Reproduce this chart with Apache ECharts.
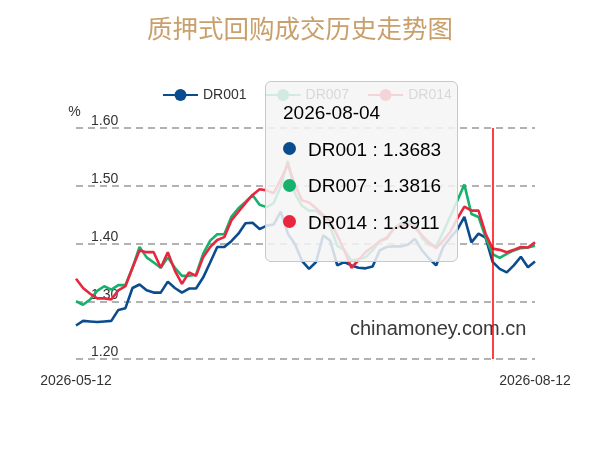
<!DOCTYPE html>
<html>
<head>
<meta charset="utf-8">
<script src="https://cdn.jsdelivr.net/npm/echarts@6/dist/echarts.min.js"></script>
<style>
html,body{margin:0;padding:0;background:#fff;}
#chart{width:600px;height:453px;}
</style>
</head>
<body>
<div id="chart"></div>
<script>
var dates = [
  '2026-05-12','2026-05-13','2026-05-14','2026-05-15',
  '2026-05-18','2026-05-19','2026-05-20','2026-05-21','2026-05-22',
  '2026-05-25','2026-05-26','2026-05-27','2026-05-28','2026-05-29',
  '2026-06-01','2026-06-02','2026-06-03','2026-06-04','2026-06-05',
  '2026-06-08','2026-06-09','2026-06-10','2026-06-11','2026-06-12',
  '2026-06-15','2026-06-16','2026-06-17','2026-06-18',
  '2026-06-22','2026-06-23','2026-06-24','2026-06-25','2026-06-26',
  '2026-06-29','2026-06-30','2026-07-01','2026-07-02','2026-07-03',
  '2026-07-06','2026-07-07','2026-07-08','2026-07-09','2026-07-10',
  '2026-07-13','2026-07-14','2026-07-15','2026-07-16','2026-07-17',
  '2026-07-20','2026-07-21','2026-07-22','2026-07-23','2026-07-24',
  '2026-07-27','2026-07-28','2026-07-29','2026-07-30','2026-07-31',
  '2026-08-03','2026-08-04','2026-08-05','2026-08-06','2026-08-07',
  '2026-08-10','2026-08-11','2026-08-12'
];
var dr001 = [
  1.258,1.266,1.265,1.264,1.265,1.266,1.285,1.288,1.323,1.329,
  1.319,1.315,1.315,1.334,1.323,1.315,1.322,1.322,1.341,1.367,
  1.394,1.394,1.404,1.417,1.435,1.436,1.425,1.431,1.433,1.455,
  1.417,1.399,1.370,1.356,1.368,1.414,1.405,1.362,1.368,1.362,
  1.358,1.357,1.360,1.388,1.394,1.395,1.395,1.398,1.408,1.388,
  1.374,1.362,1.394,1.410,1.424,1.446,1.402,1.417,1.410,1.3683,
  1.356,1.350,1.362,1.377,1.359,1.369
];
var dr007 = [
  1.300,1.294,1.303,1.318,1.326,1.320,1.328,1.328,1.358,1.394,
  1.376,1.367,1.358,1.376,1.358,1.344,1.344,1.346,1.382,1.405,
  1.416,1.416,1.446,1.461,1.472,1.484,1.467,1.463,1.470,1.499,
  1.543,1.487,1.465,1.457,1.457,1.446,1.429,1.396,1.389,1.370,
  1.373,1.376,1.388,1.404,1.408,1.426,1.435,1.440,1.435,1.410,
  1.398,1.395,1.420,1.447,1.474,1.502,1.451,1.446,1.411,1.3816,
  1.375,1.382,1.388,1.392,1.393,1.396
];
var dr014 = [
  1.339,1.323,1.313,1.305,1.305,1.303,1.319,1.326,1.358,1.388,
  1.385,1.385,1.358,1.385,1.353,1.330,1.350,1.344,1.376,1.394,
  1.406,1.411,1.440,1.455,1.470,1.484,1.494,1.492,1.487,1.511,
  1.537,1.502,1.475,1.471,1.461,1.449,1.439,1.414,1.388,1.358,
  1.371,1.385,1.394,1.404,1.410,1.426,1.430,1.435,1.428,1.414,
  1.402,1.392,1.405,1.420,1.443,1.464,1.457,1.457,1.417,1.3911,
  1.389,1.385,1.389,1.394,1.393,1.402
];
var seriesNames = ['DR001','DR007','DR014'];
var seriesColors = ['#0b4c8f','#17b06c','#e8263e'];
var yTicks = [1.20, 1.30, 1.40, 1.50, 1.60];
var tipIndex = 59;

var FONT = '"Liberation Sans", Arial, sans-serif';
var chart = echarts.init(document.getElementById('chart'));
var allData = [dr001, dr007, dr014];

chart.setOption({
  animation: false,
  backgroundColor: '#fff',
  title: {
    text: '质押式回购成交历史走势图',
    left: 'center',
    top: 11,
    textStyle: {
      color: '#c9a06c',
      fontSize: 25.5,
      fontWeight: 'normal',
      fontFamily: '"Noto Sans CJK SC", sans-serif'
    }
  },
  legend: {
    left: 157,
    top: 83,
    itemWidth: 35,
    itemHeight: 15,
    itemGap: 18,
    data: seriesNames,
    textStyle: { color: '#333', fontSize: 14, fontFamily: FONT }
  },
  grid: { left: 76, right: 65, top: 128, bottom: 94 },
  tooltip: {
    trigger: 'axis',
    alwaysShowContent: true,
    transitionDuration: 0,
    position: [265, 81],
    backgroundColor: 'rgba(245,245,245,0.85)',
    borderColor: '#c8c8c8',
    borderWidth: 1,
    padding: 0,
    extraCssText: 'border-radius:6px;width:193px;height:181px;box-sizing:border-box;box-shadow:none;',
    axisPointer: {
      type: 'line',
      animation: false,
      lineStyle: { color: '#ff0000', width: 1.5, type: 'solid' }
    },
    formatter: function (params) {
      var h = '<div style="padding:20px 0 0 17px;font-family:' + FONT.replace(/"/g, "'") + ';color:#000;">';
      h += '<div style="font-size:19px;line-height:22px;height:22px;">' + params[0].axisValue + '</div>';
      h += '<div style="height:7.5px"></div>';
      params.forEach(function (p) {
        h += '<div style="height:36.7px;line-height:36.7px;font-size:19px;white-space:nowrap;">' +
          '<span style="display:inline-block;width:13px;height:13px;border-radius:50%;background:' + p.color +
          ';margin-right:12px;vertical-align:middle;position:relative;top:-2px"></span>' +
          p.seriesName + ' : ' + p.value + '</div>';
      });
      h += '</div>';
      return h;
    }
  },
  xAxis: {
    type: 'category',
    data: dates,
    boundaryGap: false,
    axisLine: { show: false },
    axisTick: { show: false },
    splitLine: { show: false },
    axisLabel: {
      color: '#333',
      fontSize: 14,
      fontFamily: FONT,
      margin: 15,
      showMinLabel: true,
      showMaxLabel: true,
      interval: function (index) { return index === 0 || index === dates.length - 1; }
    }
  },
  yAxis: {
    type: 'value',
    min: yTicks[0],
    max: yTicks[yTicks.length - 1],
    interval: 0.1,
    name: '%',
    nameLocation: 'end',
    nameGap: 9,
    nameTextStyle: { color: '#333', fontSize: 14, fontFamily: FONT, align: 'center', padding: [0, 3, 0, 0] },
    axisLine: { show: false },
    axisTick: { show: false },
    axisLabel: {
      inside: true,
      margin: 15,
      color: '#333',
      fontSize: 14,
      fontFamily: FONT,
      verticalAlign: 'bottom',
      lineHeight: 13,
      formatter: function (v) { return v.toFixed(2); }
    },
    splitLine: {
      show: true,
      lineStyle: { color: '#999', width: 1.5, type: [7, 5] }
    }
  },
  graphic: [{
    type: 'text',
    left: 350,
    top: 319,
    z: 0,
    style: {
      text: 'chinamoney.com.cn',
      fill: '#3a3a3a',
      font: '20px ' + FONT
    }
  }],
  series: seriesNames.map(function (n, i) {
    return {
      name: n,
      type: 'line',
      data: allData[i],
      symbol: 'none',
      color: seriesColors[i],
      lineStyle: { width: 2.6, color: seriesColors[i] },
      emphasis: { disabled: true }
    };
  })
});

chart.dispatchAction({ type: 'showTip', seriesIndex: 0, dataIndex: tipIndex });
</script>
</body>
</html>
